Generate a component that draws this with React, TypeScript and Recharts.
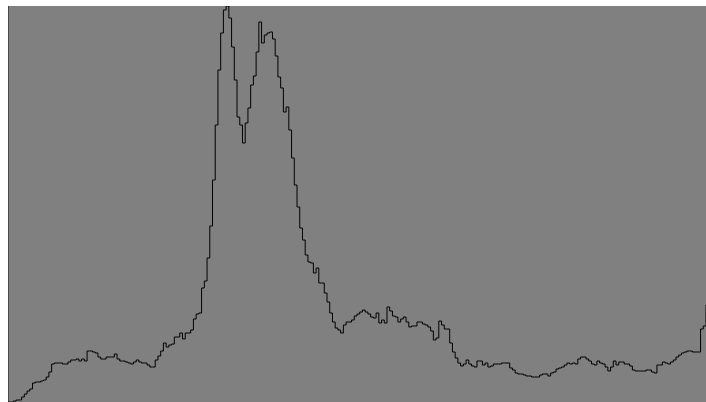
import { LineChart, Line, XAxis, YAxis, ReferenceLine } from "recharts";

// Histogram counts per intensity level (0-255), split into quarters
const shadows = [
  0, 0, 1, 2, 2, 5, 8, 11, 13, 19, 20, 20, 21, 22, 25, 30, 38, 39, 39, 39,
  38, 38, 40, 42, 42, 43, 41, 43, 41, 51, 51, 50, 49, 45, 43, 43, 45, 45, 45, 48,
  43, 41, 41, 40, 39, 38, 40, 42, 40, 39, 39, 37, 35, 35, 42, 46, 51, 59, 55, 57,
  58, 65, 65, 69,
];
const lowMids = [
  63, 69, 69, 72, 83, 88, 89, 114, 121, 144, 176, 222, 277, 332, 369, 392, 396, 384, 355, 322,
  285, 277, 259, 279, 294, 317, 326, 350, 380, 359, 367, 369, 370, 363, 346, 325, 314, 290, 295, 272,
  244, 217, 195, 174, 162, 147, 140, 139, 129, 134, 119, 119, 109, 100, 89, 80, 74, 72, 69, 77,
  80, 80, 82, 86,
];
const highMids = [
  88, 90, 92, 90, 88, 85, 84, 89, 79, 82, 79, 95, 91, 86, 85, 80, 83, 85, 80, 75,
  76, 76, 80, 80, 78, 77, 75, 71, 62, 64, 81, 77, 73, 73, 59, 50, 44, 39, 36, 38,
  42, 38, 36, 35, 41, 41, 37, 39, 35, 36, 38, 38, 38, 39, 39, 39, 34, 32, 29, 28,
  28, 27, 26, 26,
];
const highlights = [
  25, 25, 25, 27, 28, 28, 26, 29, 30, 33, 34, 35, 37, 39, 38, 39, 38, 43, 45, 45,
  43, 41, 38, 37, 41, 39, 38, 35, 31, 35, 41, 37, 40, 40, 38, 38, 36, 32, 31, 31,
  31, 31, 32, 32, 30, 29, 37, 37, 40, 39, 38, 40, 42, 45, 47, 49, 50, 51, 51, 50,
  50, 50, 73, 76,
];
// bin that is cut off at the right edge
const clipped = [97];

const LEVELS = 256;
const MAX_COUNT = 396;

const counts = [...shadows, ...lowMids, ...highMids, ...highlights, ...clipped];
const data = counts.map((count, level) => ({ level, count }));

export default function App() {
  return (
    <div
      style={{
        position: "absolute",
        left: 8,
        top: 6,
        width: 698,
        height: 396,
        background: "#808080",
      }}
    >
      <LineChart width={698} height={396} data={data} margin={{ top: 0, right: 0, bottom: 0, left: 0 }}>
        <XAxis dataKey="level" type="number" domain={[0, LEVELS]} hide />
        <YAxis domain={[0, MAX_COUNT]} hide />
        <ReferenceLine x={0} stroke="#111" strokeWidth={1} />
        <Line
          type="stepAfter"
          dataKey="count"
          stroke="#000"
          strokeWidth={1}
          dot={false}
          isAnimationActive={false}
        />
      </LineChart>
    </div>
  );
}
